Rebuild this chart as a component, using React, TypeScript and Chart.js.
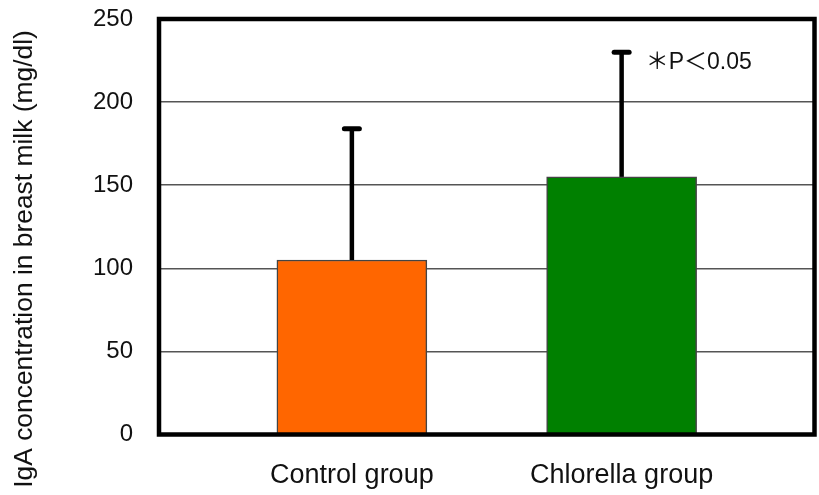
import React, { useEffect, useRef } from "react";
import { Chart, registerables } from "chart.js";

Chart.register(...registerables);

const categories = ["Control group", "Chlorella group"];
const means = [105, 155];
const errors = [79, 75];
const barColors = ["#FF6600", "#008000"];
const yTicks = [0, 50, 100, 150, 200, 250];
const yTitle = "IgA concentration in breast milk (mg/dl)";
const significance = "＊P＜0.05";
const significantIndex = 1;

const FONT = "'Liberation Sans', Arial, sans-serif";

const errorBarPlugin = {
  id: "errorBars",
  afterDatasetsDraw(chart: any) {
    const ctx = chart.ctx;
    const meta = chart.getDatasetMeta(0);
    const yScale = chart.scales.y;
    ctx.save();
    meta.data.forEach((el: any, i: number) => {
      const x = el.x;
      const yTop = yScale.getPixelForValue(means[i] + errors[i]);
      ctx.strokeStyle = "#000";
      ctx.lineCap = "butt";
      ctx.lineWidth = 4.5;
      ctx.beginPath();
      ctx.moveTo(x, el.y);
      ctx.lineTo(x, yTop);
      ctx.stroke();
      ctx.lineCap = "round";
      ctx.lineWidth = 5;
      ctx.beginPath();
      ctx.moveTo(x - 7.5, yTop);
      ctx.lineTo(x + 7.5, yTop);
      ctx.stroke();
      if (i === significantIndex) {
        ctx.fillStyle = "#111";
        ctx.font = `23px ${FONT}, 'Noto Sans CJK JP'`;
        ctx.textAlign = "left";
        ctx.textBaseline = "middle";
        ctx.fillText(significance, x + 24, yTop + 10);
      }
    });
    ctx.restore();
  },
};

const axesPlugin = {
  id: "frameAndLabels",
  afterDraw(chart: any) {
    const { ctx, chartArea } = chart;
    const xScale = chart.scales.x;
    const yScale = chart.scales.y;
    ctx.save();
    ctx.strokeStyle = "#000";
    ctx.lineWidth = 4.5;
    ctx.strokeRect(
      chartArea.left,
      chartArea.top,
      chartArea.right - chartArea.left,
      chartArea.bottom - chartArea.top
    );
    // y tick labels
    ctx.fillStyle = "#111";
    ctx.font = `24px ${FONT}`;
    ctx.textAlign = "right";
    ctx.textBaseline = "middle";
    yTicks.forEach((v) => {
      ctx.fillText(String(v), chartArea.left - 26, yScale.getPixelForValue(v));
    });
    // x category labels
    ctx.font = `27px ${FONT}`;
    ctx.textAlign = "center";
    categories.forEach((c, i) => {
      ctx.fillText(c, xScale.getPixelForValue(i), chartArea.bottom + 41.5);
    });
    // y-axis title
    ctx.translate(25, 259);
    ctx.rotate(-Math.PI / 2);
    ctx.font = `26.4px ${FONT}`;
    ctx.fillText(yTitle, 0, 0);
    ctx.restore();
  },
};

export default function App() {
  const ref = useRef<HTMLCanvasElement>(null);
  useEffect(() => {
    document.body.style.margin = "0";
    const chart = new Chart(ref.current as HTMLCanvasElement, {
      type: "bar",
      data: {
        datasets: [
          {
            data: means.map((v, i) => ({ x: i, y: v })),
            backgroundColor: barColors,
            borderColor: "#444",
            borderWidth: 1.5,
            barThickness: 150,
          },
        ],
      },
      options: {
        animation: false,
        responsive: false,
        layout: { padding: { top: 19, right: 4.5, left: 159, bottom: 60.5 } },
        plugins: { legend: { display: false }, tooltip: { enabled: false } },
        scales: {
          x: {
            type: "linear",
            min: -0.715,
            max: 1.715,
            offset: false,
            grid: { display: false, drawTicks: false },
            border: { display: false },
            ticks: { display: false },
          },
          y: {
            min: 0,
            max: 250,
            afterBuildTicks: (scale: any) => {
              scale.ticks = yTicks.map((v) => ({ value: v }));
            },
            grid: { color: "#555", lineWidth: 1.5, drawTicks: false },
            border: { display: false },
            ticks: { display: false },
          },
        },
      },
      plugins: [errorBarPlugin, axesPlugin],
    } as any);
    return () => chart.destroy();
  }, []);
  return <canvas ref={ref} width={819} height={495} />;
}
